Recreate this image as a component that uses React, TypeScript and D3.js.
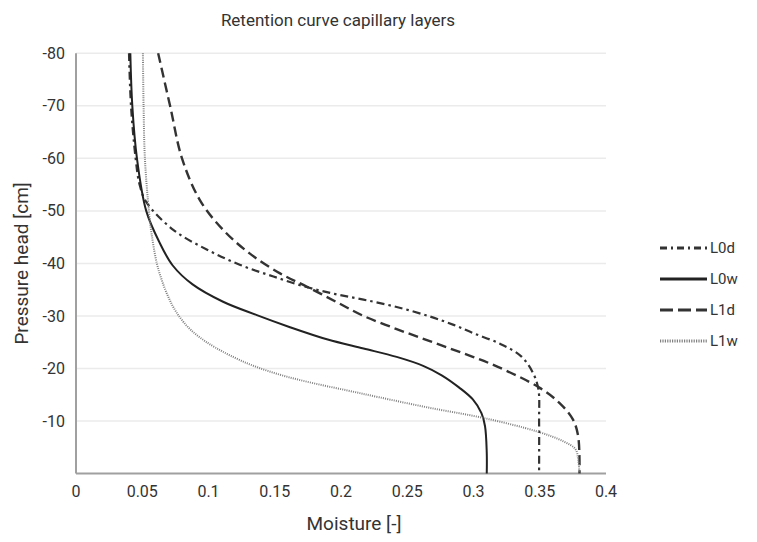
import * as d3 from "d3";

// moisture [-] read at given pressure head [cm]
const L0d: [number, number][] = [
  [0.04, -80], [0.0415, -70], [0.045, -60], [0.048, -55], [0.053, -51.7],
  [0.0734, -46.4], [0.099, -42.6], [0.124, -39.7], [0.149, -37.5], [0.174, -35.5],
  [0.195, -34.2], [0.217, -33.1], [0.242, -31.7], [0.267, -29.9], [0.285, -28.3],
  [0.3, -26.7], [0.32, -24.7], [0.336, -22.3], [0.345, -19.1], [0.349, -16],
  [0.3495, -10], [0.3495, 0],
];
const L0w: [number, number][] = [
  [0.041, -80], [0.0425, -70], [0.046, -60], [0.053, -50], [0.063, -44],
  [0.073, -39.6], [0.088, -36], [0.111, -32.7], [0.136, -30.2], [0.161, -27.9],
  [0.19, -25.5], [0.217, -23.8], [0.242, -22.2], [0.262, -20.5], [0.276, -18.7],
  [0.289, -16.4], [0.2995, -14.1], [0.306, -11.5], [0.3087, -9], [0.31, -4], [0.31, 0],
];
const L1d: [number, number][] = [
  [0.062, -80], [0.071, -70], [0.08, -60], [0.0936, -52], [0.111, -46.4],
  [0.131, -41.9], [0.154, -38.1], [0.174, -35.6], [0.197, -32.6], [0.217, -30],
  [0.242, -27.5], [0.267, -25.2], [0.292, -22.9], [0.3175, -20.4], [0.35, -16.3],
  [0.365, -13.4], [0.375, -10.3], [0.379, -7.1], [0.38, 0],
];
const L1w: [number, number][] = [
  [0.0505, -80], [0.051, -70], [0.052, -60], [0.055, -50], [0.057, -45.7],
  [0.061, -40], [0.0645, -37], [0.069, -34], [0.075, -31], [0.084, -28],
  [0.093, -26], [0.105, -24], [0.129, -21], [0.154, -18.8], [0.179, -17.2],
  [0.205, -15.8], [0.229, -14.5], [0.267, -12.5], [0.307, -10.6], [0.348, -8],
  [0.368, -6.1], [0.377, -4.6], [0.379, -2.7], [0.38, 0],
];

const xTicks = [0, 0.05, 0.1, 0.15, 0.2, 0.25, 0.3, 0.35, 0.4];
const yTicks = [-80, -70, -60, -50, -40, -30, -20, -10];

const series = [
  { name: "L0d", data: L0d, color: "#333", width: 2.2, dash: "8,4,2.5,4", legendDash: "7,4,2,4" },
  { name: "L0w", data: L0w, color: "#222", width: 2, dash: "", legendDash: "" },
  { name: "L1d", data: L1d, color: "#333", width: 2.4, dash: "10,5", legendDash: "13,5" },
  { name: "L1w", data: L1w, color: "#808080", width: 2, dash: "1,1.2", legendDash: "1.2,1.2" },
];

const font = "Roboto, 'Liberation Sans', sans-serif";

export default function App() {
  const x = d3.scaleLinear().domain([0, 0.4]).range([76, 606]);
  const y = d3.scaleLinear().domain([0, -80]).range([473.5, 53.3]);
  const line = d3
    .line<[number, number]>()
    .x((d) => x(d[0]))
    .y((d) => y(d[1]))
    .curve(d3.curveCatmullRom.alpha(0.5));

  return (
    <svg
      width={757}
      height={542}
      style={{ position: "absolute", left: 0, top: 0, background: "#fff" }}
      fontFamily={font}
    >
      <text x={338} y={26} textAnchor="middle" fontSize={17} fill="#333">
        Retention curve capillary layers
      </text>

      {yTicks.map((t) => (
        <g key={t}>
          <line x1={x(0)} x2={x(0.4)} y1={y(t)} y2={y(t)} stroke="#ebebeb" strokeWidth={1.5} />
          <text x={65} y={y(t)} dy="0.35em" textAnchor="end" fontSize={16} fill="#333">
            {t}
          </text>
        </g>
      ))}

      {xTicks.map((t) => (
        <text key={t} x={x(t)} y={497} textAnchor="middle" fontSize={16} fill="#333">
          {t}
        </text>
      ))}

      <line x1={x(0)} x2={x(0)} y1={y(-80)} y2={y(0)} stroke="#a0a0a0" strokeWidth={2} />
      <line x1={x(0)} x2={x(0.4)} y1={y(0)} y2={y(0)} stroke="#a0a0a0" strokeWidth={2} />

      {series.map((s) => (
        <path
          key={s.name}
          d={line(s.data) || ""}
          fill="none"
          stroke={s.color}
          strokeWidth={s.width}
          strokeDasharray={s.dash || undefined}
        />
      ))}

      {series.map((s, i) => {
        const ly = 248 + i * 31;
        return (
          <g key={s.name}>
            <line
              x1={660}
              x2={707}
              y1={ly}
              y2={ly}
              stroke={s.color}
              strokeWidth={s.width + 0.8}
              strokeDasharray={s.legendDash || undefined}
            />
            <text x={710} y={ly} dy="0.35em" fontSize={15} fill="#333">
              {s.name}
            </text>
          </g>
        );
      })}

      <text
        transform={`translate(28,${(y(0) + y(-80)) / 2}) rotate(-90)`}
        textAnchor="middle"
        fontSize={19}
        fill="#333"
      >
        Pressure head [cm]
      </text>
      <text x={354} y={530} textAnchor="middle" fontSize={19} fill="#333">
        Moisture [-]
      </text>
    </svg>
  );
}
